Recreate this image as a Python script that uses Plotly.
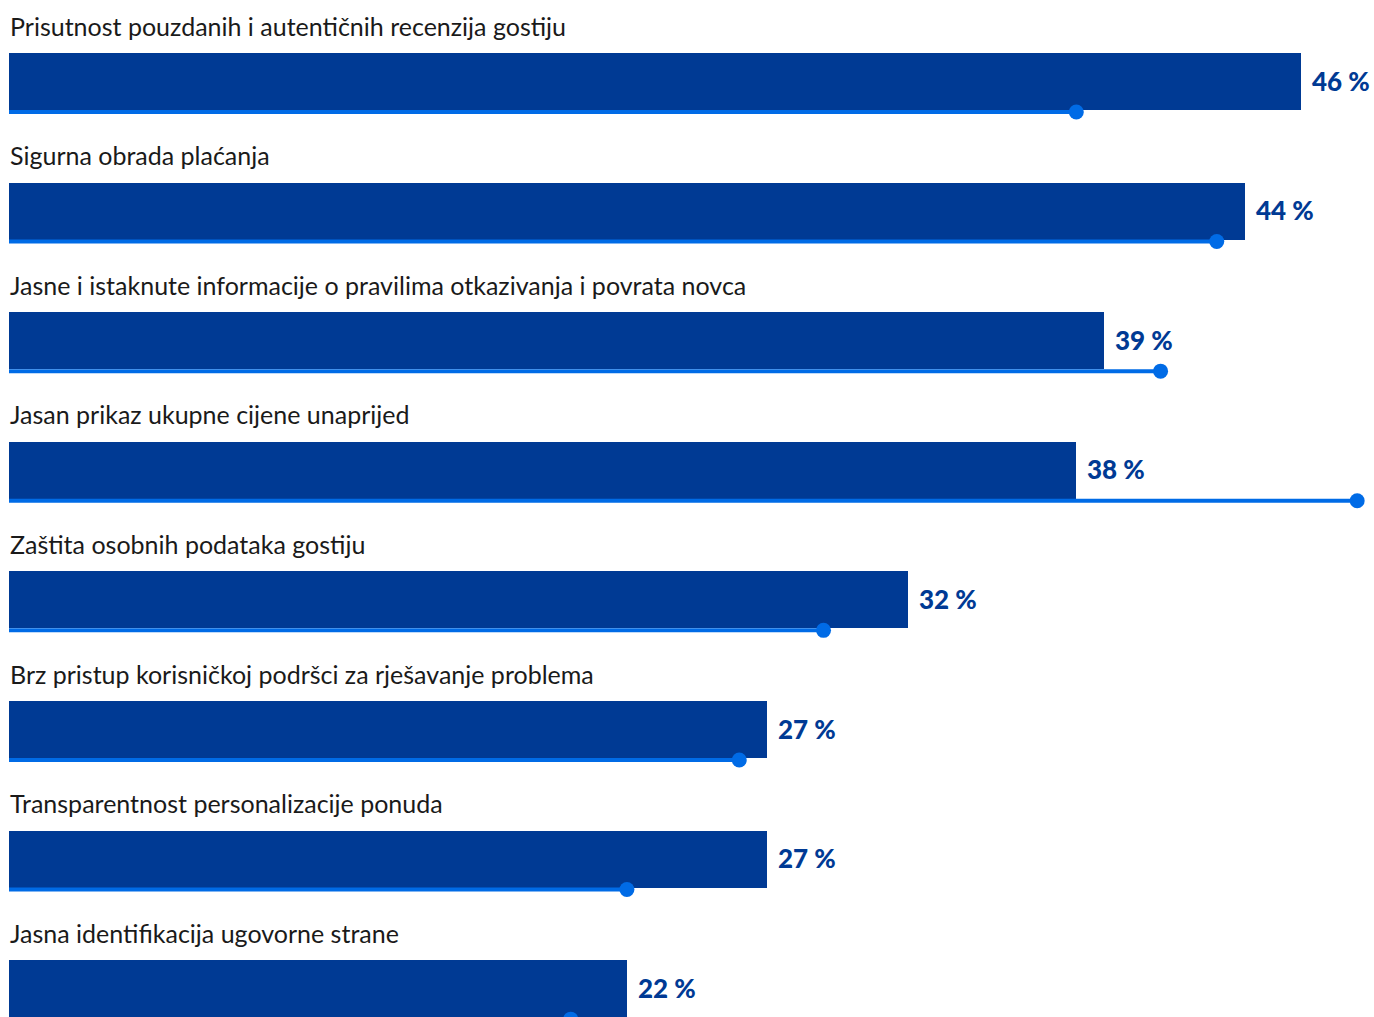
import plotly.graph_objects as go

categories = [
    "Prisutnost pouzdanih i autentičnih recenzija gostiju",
    "Sigurna obrada plaćanja",
    "Jasne i istaknute informacije o pravilima otkazivanja i povrata novca",
    "Jasan prikaz ukupne cijene unaprijed",
    "Zaštita osobnih podataka gostiju",
    "Brz pristup korisničkoj podršci za rješavanje problema",
    "Transparentnost personalizacije ponuda",
    "Jasna identifikacija ugovorne strane",
]
bar_values = [46, 44, 39, 38, 32, 27, 27, 22]
dot_values = [38, 43, 41, 48, 29, 26, 22, 20]

BAR_COLOR = "#003a94"
LINE_COLOR = "#006be6"
rows = list(range(len(categories)))
line_off = 0.235
label_off = 0.432

fig = go.Figure()
fig.add_trace(go.Bar(
    x=bar_values, y=rows, orientation="h", width=0.44,
    marker=dict(color=BAR_COLOR, line=dict(width=0)),
    hoverinfo="skip", showlegend=False,
))

lx, ly = [], []
for r, d in zip(rows, dot_values):
    lx += [0, d, None]
    ly += [r + line_off, r + line_off, None]
fig.add_trace(go.Scatter(
    x=lx, y=ly, mode="lines", line=dict(color=LINE_COLOR, width=4),
    hoverinfo="skip", showlegend=False,
))
fig.add_trace(go.Scatter(
    x=dot_values, y=[r + line_off for r in rows], mode="markers",
    marker=dict(color=LINE_COLOR, size=15, line=dict(width=0)),
    hoverinfo="skip", showlegend=False,
))

annotations = []
for r, c, v in zip(rows, categories, bar_values):
    annotations.append(dict(
        x=0, y=r - label_off, xref="x", yref="y", text=c, showarrow=False,
        xanchor="left", yanchor="middle", xshift=-1,
        font=dict(family="Lato", size=25, color="#1a1a1a"),
    ))
    annotations.append(dict(
        x=v, y=r, xref="x", yref="y", text=f"{v} %", showarrow=False,
        xanchor="left", yanchor="middle", xshift=9, yshift=1,
        font=dict(family="Lato", size=26, color=BAR_COLOR, weight=900),
    ))

px_per = (1301 - 9) / 46.0
fig.update_layout(
    width=1374, height=1017,
    margin=dict(l=0, r=0, t=0, b=0),
    paper_bgcolor="white", plot_bgcolor="white",
    annotations=annotations,
    xaxis=dict(range=[-9 / px_per, (1374 - 9) / px_per], visible=False, fixedrange=True),
    yaxis=dict(range=[7.2183, -0.6289], visible=False, fixedrange=True),
    bargap=0,
)
fig.write_html("out.html")
